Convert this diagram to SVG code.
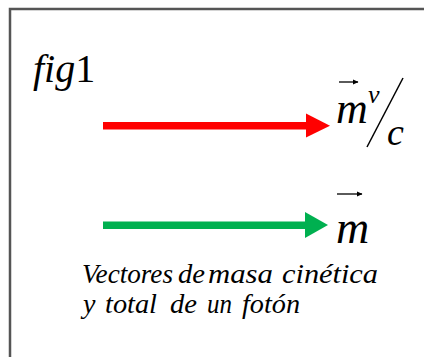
<svg xmlns="http://www.w3.org/2000/svg" width="424" height="357" viewBox="0 0 424 357">
<style>
text{font-family:"Liberation Serif","Times New Roman","DejaVu Serif",serif;fill:#000}
.it{font-style:italic}
.vec{stroke:#000;stroke-width:1.3;fill:none}
</style>
<defs>
<marker id="vh" markerWidth="6" markerHeight="6" refX="5" refY="3" orient="auto" markerUnits="userSpaceOnUse">
<path d="M0,0.5 L5.5,3 L0,5.5 Z" fill="#000"/>
</marker>
</defs>
<rect x="0" y="0" width="424" height="357" fill="#fff"/>
<rect id="frame" x="10" y="9" width="440" height="380" fill="none" stroke="#555" stroke-width="2.5"/>
<g id="title">
<text x="33" y="82" font-size="40"><tspan class="it">fig</tspan>1</text>
</g>
<g id="connectors">
<g id="red-arrow">
<rect x="103" y="122" width="205" height="7.5" fill="#ff0000"/>
<polygon points="306,113.5 330,125.7 306,137.5" fill="#ff0000"/>
</g>
<g id="green-arrow">
<rect x="103" y="221.5" width="204" height="7.5" fill="#00b050"/>
<polygon points="305,212 328,225 305,238" fill="#00b050"/>
</g>
</g>
<g id="label-mv-c">
<line class="vec" x1="339" y1="82" x2="358" y2="82" marker-end="url(#vh)"/>
<text class="it" x="336" y="123" font-size="44">m</text>
<text class="it" x="368" y="103" font-size="26">v</text>
<line x1="403" y1="78" x2="367" y2="147" stroke="#000" stroke-width="1.5"/>
<text class="it" x="387" y="145" font-size="38">c</text>
</g>
<g id="label-m">
<line class="vec" x1="337" y1="194" x2="362" y2="194" marker-end="url(#vh)"/>
<text class="it" x="336" y="243" font-size="46">m</text>
</g>
<g id="caption" font-size="28">
<text class="it" x="82" y="283" textLength="91" lengthAdjust="spacingAndGlyphs">Vectores</text>
<text class="it" x="178" y="283" textLength="27" lengthAdjust="spacingAndGlyphs">de</text>
<text class="it" x="208" y="283" textLength="65" lengthAdjust="spacingAndGlyphs">masa</text>
<text class="it" x="282" y="283" textLength="96" lengthAdjust="spacingAndGlyphs">cinética</text>
<text class="it" x="83" y="313">y</text>
<text class="it" x="105" y="313" textLength="52" lengthAdjust="spacingAndGlyphs">total</text>
<text class="it" x="170" y="313" textLength="27" lengthAdjust="spacingAndGlyphs">de</text>
<text class="it" x="207" y="313" textLength="25" lengthAdjust="spacingAndGlyphs">un</text>
<text class="it" x="242" y="313" textLength="58" lengthAdjust="spacingAndGlyphs">fotón</text>
</g>
</svg>
